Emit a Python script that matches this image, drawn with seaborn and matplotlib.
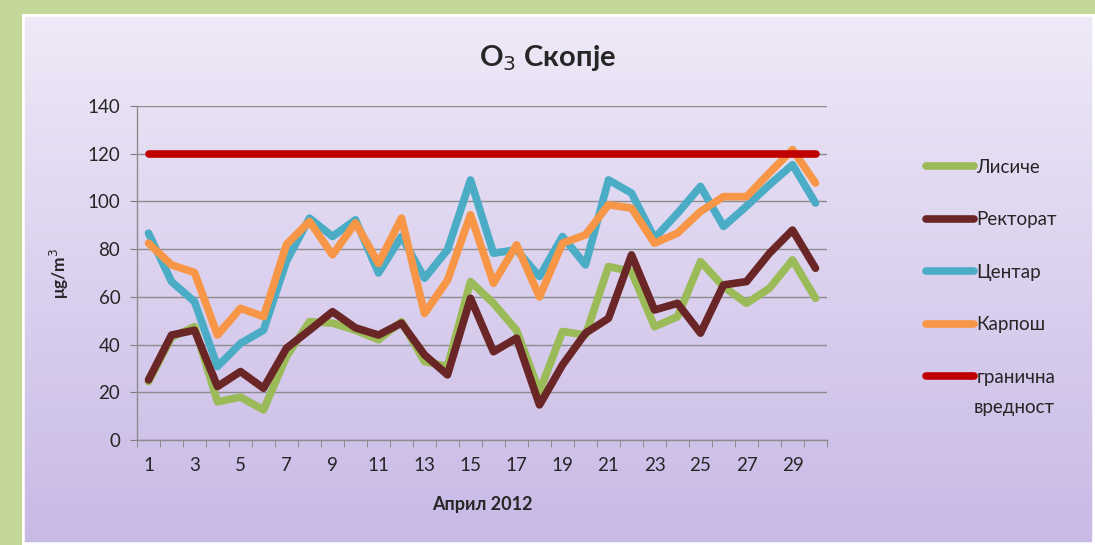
import numpy as np
import pandas as pd
import matplotlib
matplotlib.use("Agg")
import matplotlib.pyplot as plt
import seaborn as sns
from matplotlib.patches import Rectangle
from matplotlib.lines import Line2D

# O3 concentrations, Skopje, April 2012 (ug/m3)
days = list(range(1, 31))
lisiche = [24.5, 43, 47.5, 16, 18, 12.6, 35, 49.6, 49, 46,
           42, 49.6, 32.9, 30.8, 66.4, 57.3, 46, 20.3, 45.5, 44,
           72.7, 70.6, 47.5, 51.7, 74.8, 64.3, 57.3, 63.6, 75.5, 59.4]
rektorat = [25.2, 44, 46, 22.4, 28.7, 21.7, 38.5, 46, 53.8, 47,
            44, 49, 35.7, 27.3, 59.4, 37, 42.7, 14.7, 31.5, 44.8,
            51, 77.6, 54.5, 57.3, 44.8, 65, 66.4, 78.3, 88, 72]
centar = [86.7, 66.4, 58, 30.8, 40.5, 46, 75, 93, 85.3, 92.3,
          70, 85.3, 67.8, 79.7, 109, 78.3, 79.7, 68.5, 85.3, 73.4,
          109, 103.5, 84.6, 95, 106.3, 89.5, 98, 107, 115.4, 99.3]
karposh = [82.5, 73.4, 70.2, 44, 55.2, 51.7, 82, 91.6, 77.6, 91,
           74, 93, 53, 67, 94.4, 65.7, 81.8, 60, 82.5, 86,
           98.6, 97.2, 82.5, 86.7, 95.8, 102, 102, 112, 121.7, 107.7]
limit = 120

series_names = ["Лисиче", "Ректорат", "Центар", "Карпош", "гранична вредност"]
series_colors = ["#9bbb59", "#6a2626", "#4bacc6", "#f79646", "#c00000"]
tick_days = list(range(1, 30, 2))

df = pd.DataFrame({
    "day": days * 5,
    "value": lisiche + rektorat + centar + karposh + [limit] * len(days),
    "station": sum([[n] * len(days) for n in series_names], []),
})

sns.set_style("white")
plt.rcParams["font.family"] = ["Lato", "DejaVu Sans"]

fig = plt.figure(figsize=(10.95, 5.45), dpi=100)
fig.patch.set_facecolor("#c4d79b")

# lavender panel with vertical gradient
bg = fig.add_axes([22 / 1095, 0, 1 - 22 / 1095, 1 - 14 / 545], zorder=0)
grad = np.linspace(0, 1, 256)[:, None]
top = np.array([0.935, 0.915, 0.970])
bot = np.array([0.785, 0.725, 0.900])
img = top[None, None, :] * (1 - grad[:, :, None]) + bot[None, None, :] * grad[:, :, None]
bg.imshow(img, aspect="auto", extent=[0, 1, 0, 1])
bg.add_patch(Rectangle((0, 0), 1, 1, transform=bg.transAxes, fill=False,
                       edgecolor="white", linewidth=4))
bg.set_axis_off()

ax = fig.add_axes([137 / 1095, 1 - 440 / 545, 690 / 1095, 334 / 545], zorder=1)
ax.set_facecolor("none")

sns.lineplot(data=df, x="day", y="value", hue="station", palette=series_colors,
             hue_order=series_names, linewidth=5.5, ax=ax, legend=False,
             solid_capstyle="round", solid_joinstyle="round")

ax.set_xlim(0.5, 30.5)
ax.set_ylim(0, 140)
ax.set_yticks(range(0, 141, 20))
ax.set_xticks(tick_days)
ax.set_xticks(np.arange(0.5, 31, 1), minor=True)
ax.tick_params(axis="x", which="major", length=0, pad=12, labelsize=13.5)
ax.tick_params(axis="x", which="minor", length=5, color="#7f7f7f", direction="out", bottom=True)
ax.tick_params(axis="y", length=5, color="#7f7f7f", direction="out", left=True, labelsize=13.5, pad=7)
ax.grid(axis="y", color="#8c8c8c", linewidth=1)
ax.set_axisbelow(True)
for s in ["top", "right"]:
    ax.spines[s].set_visible(False)
for s in ["left", "bottom"]:
    ax.spines[s].set_color("#8c8c8c")
    ax.spines[s].set_linewidth(1)

ax.set_xlabel("Април 2012", fontsize=13, fontweight="bold", labelpad=16)
ax.set_ylabel("μg/m$^3$", fontsize=12.5, fontweight="bold", labelpad=12)

fig.text(548 / 1095, 1 - 58 / 545, "O$_3$ Скопје", fontsize=21, fontweight="bold",
         ha="center", va="center")

handles = [Line2D([0], [0], color=c, linewidth=5.5, solid_capstyle="round")
           for c in series_colors]
labels = ["Лисиче", "Ректорат", "Центар", "Карпош", "гранична"]
leg = fig.legend(handles, labels, loc="upper left", bbox_to_anchor=(918 / 1095, 1 - 151 / 545),
                 frameon=False, fontsize=13.5, handlelength=2.6, handletextpad=0.1,
                 labelspacing=1.9, borderaxespad=0)
fig.text(974 / 1095, 1 - 407 / 545, "вредност", fontsize=13.5, ha="left", va="center")

fig.savefig("out.png", dpi=100, facecolor=fig.get_facecolor())
